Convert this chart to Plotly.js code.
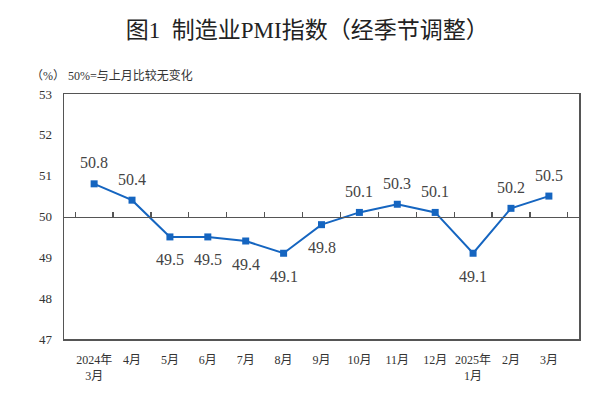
<!DOCTYPE html>
<html><head><meta charset="utf-8">
<script src="https://cdn.plot.ly/plotly-3.0.1.min.js"></script>
<style>body{margin:0;background:#fff}#chart{width:600px;height:396px}</style>
</head><body><div id="chart"></div>
<script>
const categories = ['2024年<br>3月','4月','5月','6月','7月','8月','9月','10月','11月','12月','2025年<br>1月','2月','3月'];
const pmiValues = [50.8, 50.4, 49.5, 49.5, 49.4, 49.1, 49.8, 50.1, 50.3, 50.1, 49.1, 50.2, 50.5];
const labelSide = ['above','above','below','below','below','below','below','above','above','above','below','above','above'];
const yTicks = [47, 48, 49, 50, 51, 52, 53];

const serif = '"Liberation Serif", "Times New Roman", "Noto Sans CJK SC", serif';
const cjk = '"Liberation Serif", "Noto Sans CJK SC", sans-serif';

const line = {
  x: categories, y: pmiValues, type: 'scatter', mode: 'lines+markers',
  line: {color: '#1565c0', width: 2},
  marker: {symbol: 'square', size: 7, color: '#1565c0'},
  hoverinfo: 'skip', showlegend: false
};
const refAxisTrace = {
  x: categories, y: categories.map(() => 50), xaxis: 'x2', yaxis: 'y',
  type: 'scatter', mode: 'lines', line: {color: 'rgba(0,0,0,0)', width: 0},
  hoverinfo: 'skip', showlegend: false
};

const annotations = pmiValues.map((v, i) => ({
  x: categories[i], y: v, xref: 'x', yref: 'y', text: v.toFixed(1),
  showarrow: false, yshift: labelSide[i] === 'above' ? 21 : -23,
  font: {family: serif, size: 16, color: '#444'}
}));
annotations.push({
  xref: 'paper', yref: 'paper', x: -0.068, y: 1.075, xanchor: 'left', yanchor: 'middle',
  text: '（%） 50%=与上月比较无变化', showarrow: false,
  font: {family: cjk, size: 12, color: '#333'}
});

const layout = {
  width: 600, height: 396,
  margin: {l: 64, r: 21, t: 94, b: 57},
  paper_bgcolor: '#fff', plot_bgcolor: '#fff',
  title: {text: '图1  制造业PMI指数（经季节调整）', x: 0.512, xanchor: 'center', y: 0.925, yanchor: 'middle',
          font: {family: cjk, size: 23, color: '#222'}},
  xaxis: {type: 'category', showline: true, linecolor: '#555', linewidth: 1.5, mirror: true,
          showgrid: false, zeroline: false, ticks: 'outside', ticklen: 9, tickcolor: 'rgba(0,0,0,0)',
          tickfont: {family: serif, size: 12, color: '#333'}, tickangle: 0, fixedrange: true},
  xaxis2: {type: 'category', overlaying: 'x', anchor: 'free', position: 0.5, side: 'bottom',
           showline: true, linecolor: '#555', linewidth: 1.5, showgrid: false, zeroline: false,
           ticks: 'inside', tickson: 'boundaries', ticklen: 5, tickcolor: '#555', tickwidth: 1.2,
           showticklabels: false, matches: 'x'},
  yaxis: {range: [47, 53], tickvals: yTicks, ticktext: yTicks.map(String), showline: true, linecolor: '#555',
          linewidth: 1.5, mirror: true, showgrid: false, zeroline: false,
          ticks: 'outside', ticklen: 8, tickcolor: 'rgba(0,0,0,0)',
          tickfont: {family: serif, size: 13, color: '#333'}, fixedrange: true},
  annotations: annotations
};

Plotly.newPlot('chart', [refAxisTrace, line], layout, {staticPlot: true, displayModeBar: false});
</script></body></html>
